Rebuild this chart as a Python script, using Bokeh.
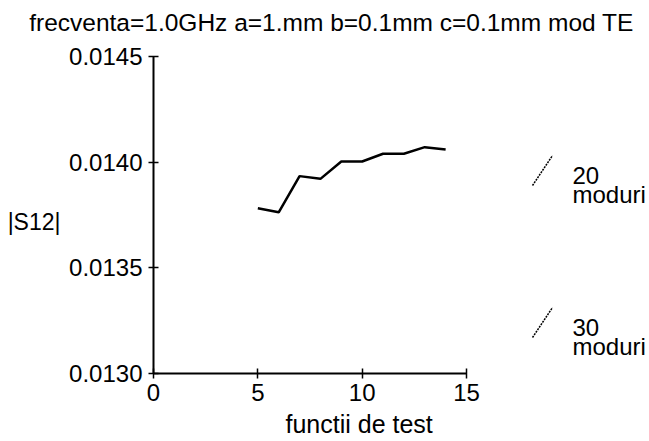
from bokeh.plotting import figure
from bokeh.models import (FixedTicker, PrintfTickFormatter, Label, Range1d, Title,
                          LinearAxis)
from bokeh.embed import file_html
from bokeh.resources import INLINE

# data
test_functions = [5, 6, 7, 8, 9, 10, 11, 12, 13, 14]
s12_values = [0.013782, 0.013763, 0.013934, 0.013921, 0.014003,
              0.014003, 0.014040, 0.014040, 0.014071, 0.014060]
x_ticks = [0, 5, 10, 15]
y_ticks = [0.0130, 0.0135, 0.0140, 0.0145]
legend_labels = ["20", "30"]
legend_sub = "moduri"
title_text = "frecventa=1.0GHz a=1.mm b=0.1mm c=0.1mm mod TE"
x_title = "functii de test"
y_title = "|S12|"

FONT = "Liberation Sans"

W, H = 649, 441
left, top, bottom = 153, 56, 68
px_per_x = (466 - 153) / 15.0
x_end = (W - left) / px_per_x
y0, y1 = y_ticks[0], y_ticks[-1]
frame_h = H - top - bottom

p = figure(width=W, height=H, output_backend="svg", toolbar_location=None,
           x_range=Range1d(0, x_end), y_range=Range1d(y0, y1),
           min_border_left=left, min_border_right=0,
           min_border_top=top, min_border_bottom=bottom, title=None)
p.outline_line_color = None
p.grid.visible = False
p.background_fill_color = "white"
p.border_fill_color = "white"

# x-axis title, below the axis
p.add_layout(Title(text=x_title, align="left", offset=285 - left, standoff=8,
                   text_font=FONT, text_font_size="25px", text_font_style="normal",
                   text_color="black", vertical_align="bottom"), "below")

for ax in (p.xaxis[0], p.yaxis[0]):
    ax.axis_line_width = 2
    ax.axis_line_color = "black"
    ax.major_tick_line_width = 1.5
    ax.major_tick_line_color = "black"
    ax.major_tick_in = 5
    ax.major_tick_out = 5
    ax.minor_tick_line_color = None
    ax.major_label_text_font = FONT
    ax.major_label_text_font_size = "24px"
    ax.major_label_text_color = "black"

p.xaxis.ticker = FixedTicker(ticks=x_ticks)
p.xaxis.bounds = (0, 15)
p.xaxis.major_label_standoff = 5
p.yaxis.ticker = FixedTicker(ticks=y_ticks)
p.yaxis.formatter = PrintfTickFormatter(format="%.4f")
p.yaxis.major_label_standoff = 6

p.line(test_functions, s12_values, line_color="black", line_width=2.5)

# helpers: canvas pixel -> data coordinates
def dx(px):
    return (px - left) / px_per_x

def dy(py):
    return y0 + (H - bottom - py) / frame_h * (y1 - y0)

def text_axis(ticks, text, size, standoff):
    return LinearAxis(ticker=FixedTicker(ticks=ticks),
                      formatter=PrintfTickFormatter(format=text),
                      axis_line_color=None, major_tick_line_color=None,
                      minor_tick_line_color=None, major_tick_in=0, major_tick_out=0,
                      major_label_standoff=standoff, major_label_text_font=FONT,
                      major_label_text_font_size=size,
                      major_label_text_color="black")

# y-axis title: horizontal text left of the tick labels
p.add_layout(text_axis([dy(221)], y_title, "23px", 6), "left")
# chart title above the plot
p.add_layout(text_axis([dx(331)], title_text, "24.5px", 21), "above")

# legend entries (to the right of the x axis)
legend_base = [185, 337]
for lab, base in zip(legend_labels, legend_base):
    p.segment(x0=[dx(532)], y0=[dy(base)], x1=[dx(552)], y1=[dy(base - 30)],
              line_color="black", line_width=1.5, line_dash="2 1")
    p.add_layout(Label(x=dx(572), y=dy(base - 2), text=lab, text_font=FONT,
                       text_font_size="24px", text_color="black"))
    p.add_layout(Label(x=dx(572), y=dy(base + 22), text=legend_sub, text_font=FONT,
                       text_font_size="24px", text_color="black"))

open("out.html", "w").write(file_html(p, INLINE))
